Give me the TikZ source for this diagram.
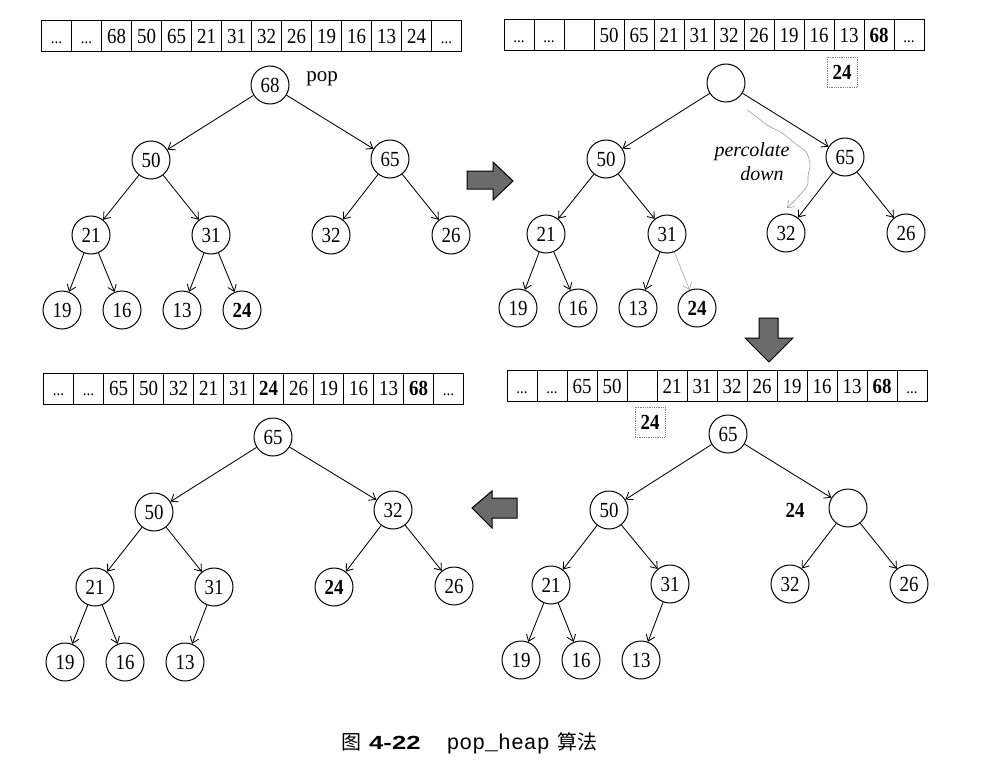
\documentclass[tikz,border=0pt]{standalone}
\usepackage{fontspec}
\setmainfont{Liberation Serif}
\setsansfont{Liberation Sans}
\setmonofont{Liberation Mono}
\newfontfamily\cjk{Noto Sans CJK SC}
\newfontfamily\numf[FakeStretch=0.88]{Liberation Serif}
\newfontfamily\capnum[FakeStretch=1.35]{Liberation Sans}
\usetikzlibrary{arrows.meta}
\newcommand\dd{\vphantom{0}{\fontsize{17}{20}\selectfont ...}}
\tikzset{
  nd/.style={circle,draw,minimum size=38pt,inner sep=0pt,line width=1pt,font=\numf\fontsize{21.5}{22}\selectfont},
  ndb/.style={nd,font=\numf\fontsize{21.5}{22}\selectfont\bfseries},
  cell/.style={rectangle,draw,minimum width=30pt,minimum height=31pt,inner sep=0pt,line width=0.9pt,font=\numf\fontsize{21.5}{22}\selectfont},
  edge/.style={line width=0.85pt,-{Straight Barb[length=6pt,width=9pt]}},
  lbl/.style={font=\fontsize{21}{22}\selectfont},
  itl/.style={inner sep=0pt,font=\fontsize{20}{22}\selectfont\itshape},
  tmpbox/.style={draw=gray,densely dotted,line width=0.8pt,minimum size=30pt,inner sep=0pt,font=\numf\fontsize{21.5}{22}\selectfont\bfseries},
  blockarrow/.style={draw=black,line width=1pt,fill=black!58},
}
\newcommand\myarray[5]{%
  \foreach \t [count=\i] in {#5}{
    \node[cell] (#1\i) at ({#2+#4/2+#4*(\i-1)},#3) {\t};
  }%
}
\begin{document}
\begin{tikzpicture}[x=1pt,y=-1pt]
\useasboundingbox (0,0) rectangle (999,768);
\fill[white] (0,0) rectangle (999,768);

% ---------- Panel 1 ----------
\myarray{A}{41.5}{36}{30}{\dd,\dd,68,50,65,21,31,32,26,19,16,13,24,\dd}
\node[nd] (p1r) at (270,85) {68};
\node[lbl] (pop) at (322,79) {pop};
\node[nd] (p1a) at (151,160) {50};
\node[nd] (p1b) at (390,159) {65};
\node[nd] (p1c) at (91,235) {21};
\node[nd] (p1d) at (211,235) {31};
\node[nd] (p1e) at (331,235) {32};
\node[nd] (p1f) at (451,235) {26};
\node[nd] (p1g) at (62,310) {19};
\node[nd] (p1h) at (122,310) {16};
\node[nd] (p1i) at (182,310) {13};
\node[ndb] (p1j) at (242,310) {24};
\draw[edge] (p1r) -- (p1a);
\draw[edge] (p1r) -- (p1b);
\draw[edge] (p1a) -- (p1c);
\draw[edge] (p1a) -- (p1d);
\draw[edge] (p1b) -- (p1e);
\draw[edge] (p1b) -- (p1f);
\draw[edge] (p1c) -- (p1g);
\draw[edge] (p1c) -- (p1h);
\draw[edge] (p1d) -- (p1i);
\draw[edge] (p1d) -- (p1j);

% ---------- Panel 2 ----------
\myarray{B}{504}{35}{30}{\dd,\dd,{},50,65,21,31,32,26,19,16,13,{\bfseries 68},\dd}
\node[tmpbox] (t2) at (842,72) {24};
\node[nd] (p2r) at (726,83) {};
\node[nd] (p2a) at (606,159) {50};
\node[nd] (p2b) at (845,157) {65};
\node[nd] (p2c) at (546,234) {21};
\node[nd] (p2d) at (667,234) {31};
\node[nd] (p2e) at (786,233) {32};
\node[nd] (p2f) at (906,233) {26};
\node[nd] (p2g) at (518,308) {19};
\node[nd] (p2h) at (578,308) {16};
\node[nd] (p2i) at (638,308) {13};
\node[ndb] (p2j) at (697,308) {24};
\draw[edge] (p2r) -- (p2a);
\draw[edge] (p2r) -- (p2b);
\draw[edge] (p2a) -- (p2c);
\draw[edge] (p2a) -- (p2d);
\draw[edge] (p2b) -- (p2e);
\draw[edge] (p2b) -- (p2f);
\draw[edge] (p2c) -- (p2g);
\draw[edge] (p2c) -- (p2h);
\draw[edge] (p2d) -- (p2i);
\draw[edge,draw=gray!70,line width=0.6pt] (p2d) -- (p2j);
\node[itl] (perc1) at (752,152) {percolate};
\node[itl] (perc2) at (762,174) {down};
\coordinate (pcs) at (747,110);
\coordinate (pce) at (787,208);
\draw[gray!75,line width=0.6pt,-{Straight Barb[length=6pt,width=9pt]}] plot[smooth,tension=0.6] coordinates {(pcs) (757,117) (767,125) (782,133) (797,145) (806,152) (810,164) (808,176) (807,186) (797,198) (pce)};

% ---------- Panel 3 ----------
\myarray{C}{507}{386}{30}{\dd,\dd,65,50,{},21,31,32,26,19,16,13,{\bfseries 68},\dd}
\node[tmpbox] (t3) at (650,422) {24};
\node[nd] (p3r) at (728,434) {65};
\node[nd] (p3a) at (609,510) {50};
\node[nd] (p3b) at (848,508) {};
\node[inner sep=0pt,font=\numf\fontsize{21.5}{22}\selectfont\bfseries] (l3) at (795,510) {24};
\node[nd] (p3c) at (551,585) {21};
\node[nd] (p3d) at (670,584) {31};
\node[nd] (p3e) at (790,584) {32};
\node[nd] (p3f) at (909,584) {26};
\node[nd] (p3g) at (521,660) {19};
\node[nd] (p3h) at (581,660) {16};
\node[nd] (p3i) at (641,660) {13};
\draw[edge] (p3r) -- (p3a);
\draw[edge] (p3r) -- (p3b);
\draw[edge] (p3a) -- (p3c);
\draw[edge] (p3a) -- (p3d);
\draw[edge] (p3b) -- (p3e);
\draw[edge] (p3b) -- (p3f);
\draw[edge] (p3c) -- (p3g);
\draw[edge] (p3c) -- (p3h);
\draw[edge] (p3d) -- (p3i);

% ---------- Panel 4 ----------
\myarray{D}{43.5}{388.5}{30}{\dd,\dd,65,50,32,21,31,{\bfseries 24},26,19,16,13,{\bfseries 68},\dd}
\node[nd] (p4r) at (273,437) {65};
\node[nd] (p4a) at (154,512) {50};
\node[nd] (p4b) at (393,510) {32};
\node[nd] (p4c) at (95,587) {21};
\node[nd] (p4d) at (214,587) {31};
\node[ndb] (p4e) at (334,587) {24};
\node[nd] (p4f) at (454,586) {26};
\node[nd] (p4g) at (65,662) {19};
\node[nd] (p4h) at (125,662) {16};
\node[nd] (p4i) at (185,662) {13};
\draw[edge] (p4r) -- (p4a);
\draw[edge] (p4r) -- (p4b);
\draw[edge] (p4a) -- (p4c);
\draw[edge] (p4a) -- (p4d);
\draw[edge] (p4b) -- (p4e);
\draw[edge] (p4b) -- (p4f);
\draw[edge] (p4c) -- (p4g);
\draw[edge] (p4c) -- (p4h);
\draw[edge] (p4d) -- (p4i);

% ---------- block arrows ----------
\draw[blockarrow] (467,171) -- (493,171) -- (493,162) -- (513,181) -- (493,200) -- (493,189) -- (467,189) -- cycle;
\draw[blockarrow] (759,318) -- (778,318) -- (778,338) -- (793,338) -- (769,362) -- (745,338) -- (759,338) -- cycle;
\draw[blockarrow] (517,498) -- (492,498) -- (492,491) -- (472,508) -- (492,528) -- (492,518) -- (517,518) -- cycle;

% ---------- caption ----------
\node[anchor=base west,inner sep=0pt] (cap) at (341,749) {{\cjk\fontsize{20}{22}\selectfont 图}\hspace{8pt}{\capnum\bfseries\fontsize{19}{22}\selectfont 4-22}\hspace{26pt}{\ttfamily\fontsize{21.5}{22}\selectfont pop\_heap}\hspace{8pt}{\cjk\fontsize{20}{22}\selectfont 算法}};
\end{tikzpicture}
\end{document}
